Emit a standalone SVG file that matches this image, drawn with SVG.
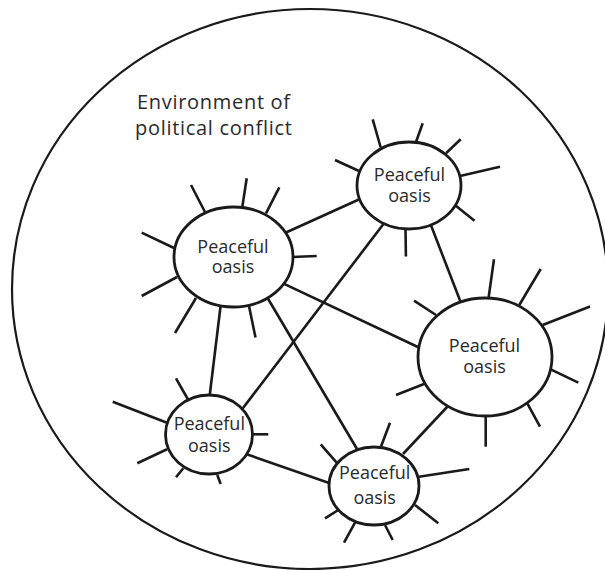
<svg xmlns="http://www.w3.org/2000/svg" width="605" height="570" viewBox="0 0 605 570">
<style>
.bg{fill:#fff}
.env{fill:none;stroke:#1a1a1a;stroke-width:2.2}
.edge{stroke:#1a1a1a;stroke-width:2.6;fill:none;stroke-linecap:butt}
.spoke{stroke:#1a1a1a;stroke-width:2.6;fill:none}
.oasis{fill:#fff;stroke:#1a1a1a;stroke-width:2.8}
.lbl{font-family:"Open Sans","Noto Sans",sans-serif;font-size:18px;fill:#2a2a2a;text-anchor:middle}
.title{font-family:"Open Sans","Noto Sans",sans-serif;font-size:20px;fill:#2a2a2a;letter-spacing:0.7px}
</style>
<rect class="bg" width="605" height="570"/>
<g id="environment">
<ellipse class="env" cx="310" cy="289" rx="298" ry="280"/>
<text class="title" x="137" y="109">Environment of</text>
<text class="title" x="135" y="135">political conflict</text>
</g>
<g id="connectors">
<line class="edge" x1="286" y1="232.5" x2="360" y2="199"/>
<line class="edge" x1="283.6" y1="283.6" x2="420" y2="348"/>
<line class="edge" x1="220.7" y1="305" x2="209.5" y2="397"/>
<line class="edge" x1="267" y1="297" x2="357" y2="449"/>
<line class="edge" x1="430.5" y1="224" x2="461" y2="303"/>
<line class="edge" x1="385" y1="222" x2="241.5" y2="410"/>
<line class="edge" x1="448" y1="406" x2="403" y2="454"/>
<line class="edge" x1="246" y1="454" x2="332" y2="484"/>
</g>
<g id="node1">
<line class="spoke" x1="191" y1="185" x2="205" y2="212"/>
<line class="spoke" x1="246.7" y1="178.3" x2="242.3" y2="207"/>
<line class="spoke" x1="279.3" y1="187.3" x2="266" y2="213.3"/>
<line class="spoke" x1="292" y1="257" x2="316.7" y2="256"/>
<line class="spoke" x1="141.7" y1="232.7" x2="175" y2="248.5"/>
<line class="spoke" x1="141.7" y1="296" x2="177" y2="277"/>
<line class="spoke" x1="175" y1="333" x2="196" y2="298"/>
<line class="spoke" x1="255.5" y1="337.5" x2="249" y2="306"/>
<ellipse class="oasis" cx="233.5" cy="257" rx="59.5" ry="50"/>
<text class="lbl" x="233" y="253">Peaceful</text>
<text class="lbl" x="233" y="273">oasis</text>
</g>
<g id="node2">
<line class="spoke" x1="372.7" y1="119.3" x2="380.7" y2="147.5"/>
<line class="spoke" x1="422.7" y1="123.3" x2="416" y2="142"/>
<line class="spoke" x1="460.7" y1="139.3" x2="446" y2="153.3"/>
<line class="spoke" x1="500" y1="166.7" x2="460" y2="176"/>
<line class="spoke" x1="335" y1="160" x2="359" y2="171"/>
<line class="spoke" x1="474.5" y1="220.7" x2="455.5" y2="205.5"/>
<line class="spoke" x1="405.5" y1="229" x2="405.9" y2="256.4"/>
<ellipse class="oasis" cx="409" cy="185.5" rx="52" ry="43.5"/>
<text class="lbl" x="409.5" y="181">Peaceful</text>
<text class="lbl" x="409.5" y="202">oasis</text>
</g>
<g id="node3">
<line class="spoke" x1="494" y1="259.3" x2="488.7" y2="297"/>
<line class="spoke" x1="540.7" y1="269" x2="519.3" y2="305"/>
<line class="spoke" x1="590" y1="306.5" x2="542.7" y2="325"/>
<line class="spoke" x1="414" y1="300.7" x2="436" y2="315"/>
<line class="spoke" x1="396" y1="395" x2="424" y2="384"/>
<line class="spoke" x1="578.3" y1="382.7" x2="550.7" y2="369.3"/>
<line class="spoke" x1="540" y1="426.7" x2="527.3" y2="403.3"/>
<line class="spoke" x1="485.7" y1="416" x2="485.7" y2="446.7"/>
<ellipse class="oasis" cx="485" cy="357" rx="67" ry="59"/>
<text class="lbl" x="484.5" y="352">Peaceful</text>
<text class="lbl" x="484.5" y="373">oasis</text>
</g>
<g id="node4">
<line class="spoke" x1="176" y1="378.3" x2="188.3" y2="400"/>
<line class="spoke" x1="112.7" y1="401.7" x2="167" y2="422.7"/>
<line class="spoke" x1="252.5" y1="434.3" x2="268.3" y2="434.3"/>
<line class="spoke" x1="137.3" y1="463.3" x2="167" y2="449.3"/>
<line class="spoke" x1="176" y1="477.3" x2="183.3" y2="468.3"/>
<line class="spoke" x1="220.7" y1="484" x2="217.3" y2="475"/>
<ellipse class="oasis" cx="209" cy="434.5" rx="43.5" ry="39.5"/>
<text class="lbl" x="209.3" y="430">Peaceful</text>
<text class="lbl" x="209.3" y="451.5">oasis</text>
</g>
<g id="node5">
<line class="spoke" x1="390" y1="422.7" x2="381" y2="446.5"/>
<line class="spoke" x1="320.7" y1="444.3" x2="336.7" y2="462.7"/>
<line class="spoke" x1="469.3" y1="469" x2="419" y2="476.7"/>
<line class="spoke" x1="325" y1="518.3" x2="338.3" y2="510"/>
<line class="spoke" x1="438.3" y1="523.3" x2="415" y2="505"/>
<line class="spoke" x1="344" y1="542.7" x2="355" y2="522.7"/>
<line class="spoke" x1="392.7" y1="540" x2="385" y2="525"/>
<ellipse class="oasis" cx="374" cy="486" rx="45" ry="39"/>
<text class="lbl" x="374.7" y="478.5">Peaceful</text>
<text class="lbl" x="374.7" y="504">oasis</text>
</g>
</svg>
